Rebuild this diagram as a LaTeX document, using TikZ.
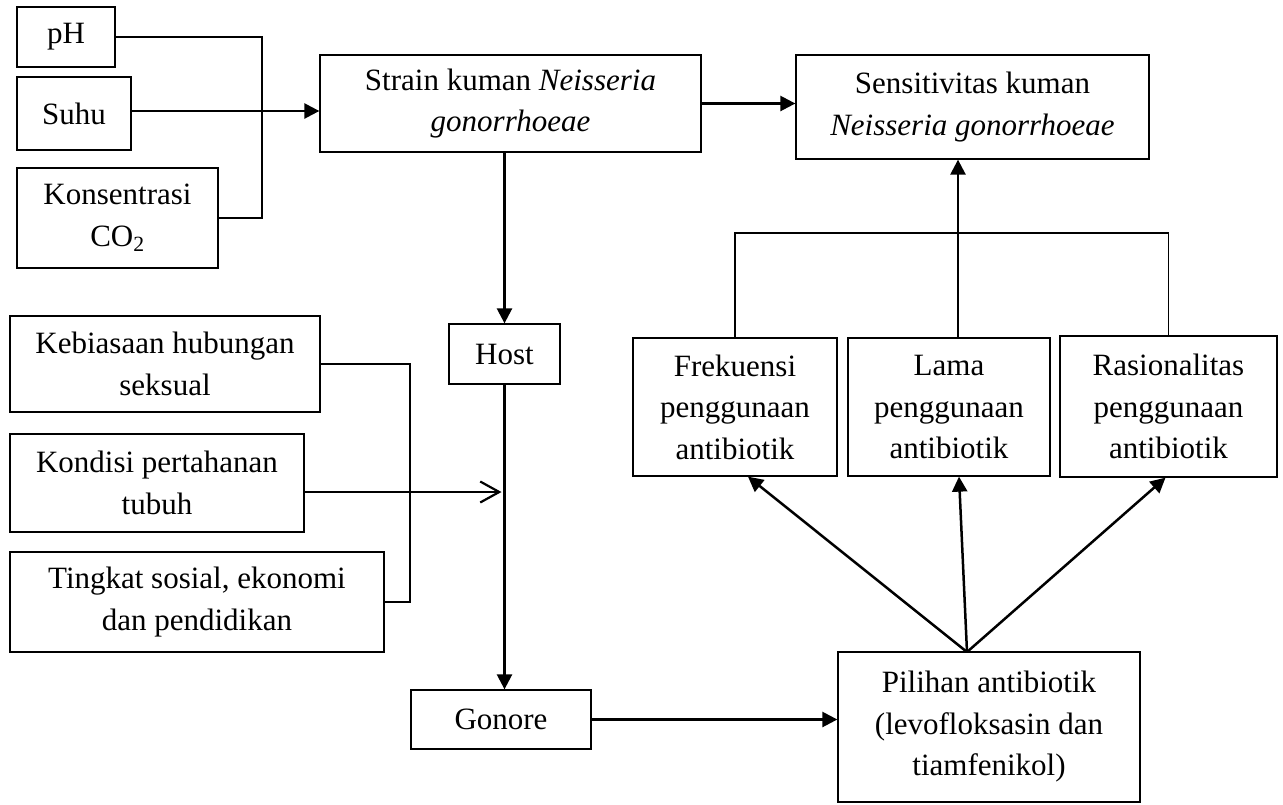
\documentclass[tikz,border=0pt]{standalone}
\usepackage{fontspec}
\setmainfont{Liberation Serif}
\usetikzlibrary{arrows.meta}
\tikzset{
  box/.style={draw, line width=1.3pt, inner sep=0pt, align=center,
    font=\fontsize{31}{41.5}\selectfont},
  conn/.style={line width=2.5pt},
  arr/.style={conn, -{Triangle[length=15pt,width=15pt]}},
  openarr/.style={conn, -{Straight Barb[length=19pt,width=21pt,line width=2.2pt]}},
  thin conn/.style={line width=1.8pt}
}
\begin{document}
\begin{tikzpicture}[x=1pt,y=-1pt]
\useasboundingbox (0,0) rectangle (1283,804);
% nodes
\node[box, minimum width=98pt, minimum height=60pt] (ph) at (66,37) {pH};
\node[box, minimum width=114pt, minimum height=73pt] (suhu) at (74,113.5) {Suhu};
\node[box, minimum width=201pt, minimum height=100pt] (co2) at (117.5,218) {Konsentrasi\\CO\textsubscript{2}};
\node[box, minimum width=381pt, minimum height=97pt] (strain) at (510.5,103.5) {Strain kuman \textit{Neisseria}\\\textit{gonorrhoeae}};
\node[box, minimum width=353pt, minimum height=104pt] (sens) at (972.5,107) {Sensitivitas kuman\\\textit{Neisseria gonorrhoeae}};
\node[box, minimum width=111pt, minimum height=60pt] (host) at (504.5,354) {Host};
\node[box, minimum width=310pt, minimum height=96pt] (keb) at (165,364) {Kebiasaan hubungan\\seksual};
\node[box, minimum width=294pt, minimum height=98pt] (kon) at (157,483) {Kondisi pertahanan\\tubuh};
\node[box, minimum width=374pt, minimum height=100pt] (ting) at (197,602) {Tingkat sosial, ekonomi\\dan pendidikan};
\node[box, minimum width=180pt, minimum height=59pt] (gon) at (501,719.5) {Gonore};
\node[box, minimum width=302pt, minimum height=150pt] (pil) at (989,727) {Pilihan antibiotik\\(levofloksasin dan\\tiamfenikol)};
\node[box, minimum width=204pt, minimum height=138pt] (frek) at (735,407) {Frekuensi\\penggunaan\\antibiotik};
\node[box, minimum width=202pt, minimum height=138pt] (lama) at (949,407) {Lama\\penggunaan\\antibiotik};
\node[box, minimum width=217pt, minimum height=141pt] (ras) at (1168.5,406.5) {Rasionalitas\\penggunaan\\antibiotik};
% coordinates
\coordinate (bj) at (262,111);
\coordinate (bj2) at (410,492);
\coordinate (tb) at (958,233);
\coordinate (po) at (967,652);
% left top bracket
\draw[conn] (ph) -| (bj);
\draw[conn] (co2) -| (bj);
\draw[arr] (suhu.east |- bj) -- (bj -| strain.west);
% strain -> sens
\draw[arr] (strain.east) -- (strain.east -| sens.west);
% strain -> host -> gonore
\draw[arr] (strain.south -| host.north) -- (host.north);
\draw[arr] (host.south) -- (host.south |- gon.north);
% left middle bracket
\draw[conn] (keb) -| (bj2);
\draw[conn] (ting) -| (bj2);
\draw[openarr] (kon.east |- bj2) -- ([xshift=-3pt]bj2 -| host.south);
% gonore -> pilihan
\draw[arr] (gon.east) -- (gon.east -| pil.west);
% pilihan -> three
\draw[arr] (po) -- ([xshift=13pt]frek.south);
\draw[arr] (po) -- ([xshift=10pt]lama.south);
\draw[arr] (po) -- ([xshift=-3pt]ras.south);
% top right bracket
\draw[thin conn] (frek.north) |- (tb) -| (ras.north);
\draw[arr] (tb |- lama.north) -- (tb |- sens.south);
\end{tikzpicture}
\end{document}
